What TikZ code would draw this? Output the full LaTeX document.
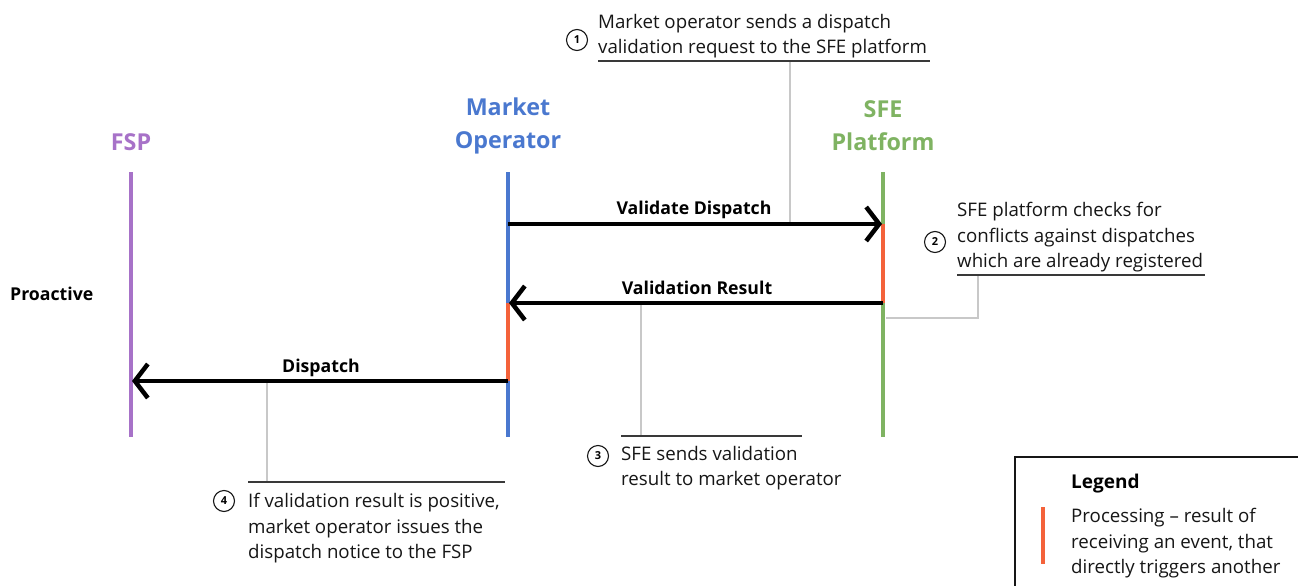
\documentclass[tikz,border=0pt]{standalone}
\usepackage{fontspec}
\setmainfont{Open Sans}
\usetikzlibrary{arrows.meta}
\definecolor{fspc}{HTML}{A772C8}
\definecolor{moc}{HTML}{4A78CF}
\definecolor{sfec}{HTML}{7FB362}
\definecolor{procc}{HTML}{F4623A}
\definecolor{leadc}{HTML}{C8C8C8}
\definecolor{inkc}{HTML}{161616}
\begin{document}
\begin{tikzpicture}[x=1pt,y=-1pt,
  lifeline/.style={line width=4pt},
  procbar/.style={line width=4pt,draw=procc},
  msg/.style={line width=4.5pt,draw=black,-{Straight Barb[length=13pt,width=34pt,line width=4.5pt]}},
  msglabel/.style={font=\fontsize{17.7}{20}\selectfont\bfseries,inner sep=0pt,anchor=base},
  header/.style={font=\fontsize{23.3}{33}\selectfont\bfseries,align=center,inner sep=0pt},
  note/.style={font=\fontsize{18.7}{25.5}\selectfont,align=left,inner sep=0pt,anchor=north west,text=inkc},
  numc/.style={circle,draw=inkc,line width=1.1pt,minimum size=21pt,inner sep=0pt,font=\fontsize{11}{11}\selectfont\bfseries},
  leader/.style={draw=leadc,line width=1.5pt},
  underl/.style={draw=inkc!85,line width=1.8pt}]
\useasboundingbox (0,0) rectangle (1298,586);
\clip (0,0) rectangle (1298,586);

% headers
\node[header,text=fspc] (hfsp) at (131,142) {FSP};
\node[header,text=moc] (hmo) at (508,126) {Market\\Operator};
\node[header,text=sfec] (hsfe) at (883,126) {SFE\\Platform};

% lifelines
\coordinate (fspT) at (131,172); \coordinate (fspB) at (131,437);
\coordinate (moT) at (508,172);  \coordinate (moB) at (508,437);
\coordinate (sfeT) at (883,172); \coordinate (sfeB) at (883,437);
\draw[lifeline,fspc] (fspT) -- (fspB);
\draw[lifeline,moc] (moT) -- (moB);
\draw[lifeline,sfec] (sfeT) -- (sfeB);

% event points
\coordinate (mo1) at (508,224); \coordinate (sfe1) at (883,224);
\coordinate (sfe2) at (883,303); \coordinate (mo2) at (508,303);
\coordinate (mo3) at (508,381); \coordinate (fsp3) at (131,381);

% processing segments
\draw[procbar] (sfe1) -- (sfe2);
\draw[procbar] (mo2) -- (mo3);

% leader lines (behind messages)
\coordinate (l1a) at (790,61);  \coordinate (l1b) at (790,222);
\draw[leader] (l1a) -- (l1b);
\coordinate (l2a) at (978,275); \coordinate (l2b) at (978,318); \coordinate (l2c) at (886,318);
\draw[leader] (l2a) -- (l2b) -- (l2c);
\coordinate (l3a) at (641,305); \coordinate (l3b) at (641,436);
\draw[leader] (l3a) -- (l3b);
\coordinate (l4a) at (267,383); \coordinate (l4b) at (267,482);
\draw[leader] (l4a) -- (l4b);

% messages
\draw[msg] (mo1) -- ([xshift=-1pt]sfe1);
\draw[msg] (sfe2) -- ([xshift=1pt]mo2);
\draw[msg] (mo3) -- ([xshift=1pt]fsp3);
\node[msglabel] (m1) at (694,214) {Validate Dispatch};
\node[msglabel] (m2) at (697,294) {Validation Result};
\node[msglabel] (m3) at (321,372) {Dispatch};

% side label
\node[font=\fontsize{17.7}{20}\selectfont\bfseries,anchor=base west,inner sep=0pt] (pro) at (10,300) {Proactive};

% annotation 1
\node[note] (n1) at (598,14) {Market operator sends a dispatch\\validation request to the SFE platform};
\node[numc] (c1) at (577,40) {1};
\draw[underl] (598,61) -- (930,61);

% annotation 2
\node[note] (n2) at (957,202) {SFE platform checks for\\conflicts against dispatches\\which are already registered};
\node[numc] (c2) at (935,242) {2};
\draw[underl] (957,275) -- (1205,275);

% annotation 3
\draw[underl] (621,436) -- (802,436);
\node[note] (n3) at (621,446) {SFE sends validation\\result to market operator};
\node[numc] (c3) at (598,456) {3};

% annotation 4
\draw[underl] (248,482) -- (505,482);
\node[note] (n4) at (248,493) {If validation result is positive,\\market operator issues the\\dispatch notice to the FSP};
\node[numc] (c4) at (224,501) {4};

% legend
\draw[draw=inkc,line width=1.3pt] (1015,457) rectangle (1320,620);
\node[font=\fontsize{19}{20}\selectfont\bfseries,anchor=base west,inner sep=0pt] (lg) at (1071,488) {Legend};
\draw[procbar] (1043,507) -- (1043,564);
\node[note] (lt) at (1071,508) {Processing – result of\\receiving an event, that\\directly triggers another};
\end{tikzpicture}
\end{document}
